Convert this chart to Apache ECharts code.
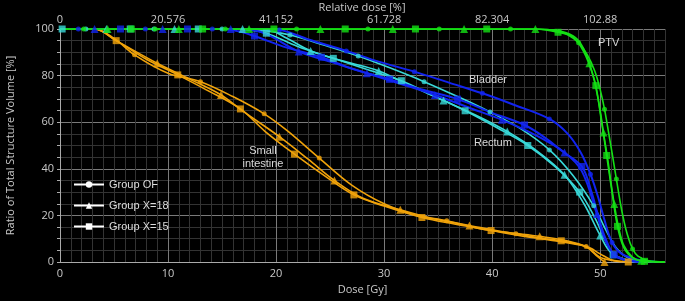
<!DOCTYPE html>
<html>
<head>
<meta charset="utf-8">
<script src="https://cdn.jsdelivr.net/npm/echarts@6/dist/echarts.min.js"></script>
<style>
  html, body { margin: 0; padding: 0; background: #000; }
  #Chart { width: 685px; height: 301px; }
</style>
</head>
<body>
<div id="Chart"></div>
<script>
// DVH curves: dose [Gy] vs volume [%], three plan groups per structure

const doseTicks = ['0', '10', '20', '30', '40', '50'];
const relDoseTicks = ['0', '20.576', '41.152', '61.728', '82.304', '102.88'];
const volumeTicks = ['0', '20', '40', '60', '80', '100'];
const groups = ['Group OF', 'Group X=18', 'Group X=15'];

// PTV
const ptvOF = [[0,100],[44,100],[46,99.3],[47,97.5],[48,94.1],[48.8,89],[49.5,82],[50,74],[50.4,65.6],[50.8,55],[51.2,44],[51.5,35.6],[52,22],[52.5,12],[53,5.6],[53.5,2.5],[54.5,0.5],[56,0]];
const ptvX18 = [[0,100],[44,100],[46,99.3],[47.5,97],[48.3,93],[49,85.3],[49.5,77],[50,65],[50.3,55.6],[50.7,44],[51,34],[51.3,24.9],[51.7,15],[52.2,7],[53,2],[53.8,0.5],[56,0]];
const ptvX15 = [[0,100],[44,100],[46.1,98.6],[47.5,96.5],[48.5,90],[49.2,82],[49.6,75.7],[50.1,61],[50.6,45.7],[51,33],[51.6,15.3],[52.2,6],[53,1.8],[54,0.4],[56,0]];
const ptvOFMarks = [[2.2,100],[8.8,100],[15.3,100],[21.9,100],[28.5,100],[35.1,100],[41.7,100],[48,94.1],[50.4,65.6],[51.5,35.6],[53,5.6]];
const ptvX18Marks = [[4.4,100],[11,100],[17.5,100],[24.1,100],[30.8,100],[37.4,100],[44,100],[49,85.3],[50.3,55.6],[51.3,24.9],[53.8,0.5]];
const ptvX15Marks = [[6.6,100],[13.2,100],[19.8,100],[26.4,100],[32.9,100],[39.5,100],[46.1,98.6],[49.6,75.7],[50.6,45.7],[51.6,15.3],[54.1,0.3]];

// Bladder
const bladderOF = [[0,100],[18,100],[20.3,99.6],[23,95.5],[26.5,90.6],[29.5,86],[32.8,81.7],[36,77],[39.1,72.4],[42,67.5],[45.3,61.4],[47,55],[48.2,47],[49.1,37.7],[49.8,28],[50.4,18],[51.1,8.4],[52,3.5],[53.5,1],[55,0.2]];
const bladderX18 = [[0,100],[17,100],[19,98],[22.1,90.3],[25,86],[28.4,81],[31.5,76.5],[34.7,71.7],[38,66],[40.9,61],[44,54.5],[46.7,47],[48.3,39],[49.7,20.6],[50.4,10],[51.3,3],[52.5,0.6],[54,0]];
const bladderX15 = [[0,100],[15,100],[16.5,99],[18,97],[21,92],[24.2,87.9],[27,83],[30.5,78.4],[33.5,74],[36.8,69.9],[40,64],[43,58.8],[45,53],[46.5,47.5],[48.3,41],[49.2,30],[49.8,20],[50.5,10],[51.3,3.1],[52.5,0.8],[54,0.1]];
const bladderOFMarks = [[1.7,100],[7.9,100],[14.1,100],[20.3,99.6],[26.5,90.6],[32.8,81.7],[39.1,72.4],[45.3,61.4],[49.1,37.7],[51.1,8.4]];
const bladderX18Marks = [[3.2,100],[9.5,100],[15.8,100],[22.1,90.3],[28.4,81],[34.7,71.7],[40.9,61],[46.7,47],[49.7,20.6]];
const bladderX15Marks = [[5.6,100],[11.8,100],[18,97],[24.2,87.9],[30.5,78.4],[36.8,69.9],[43,58.8],[48.3,41],[51.3,3.1]];

// Rectum
const rectumOF = [[0,100],[17,100],[19,99.3],[21.3,97.4],[24.5,93],[27.6,88.4],[30.7,83],[33.7,77.4],[36.8,71],[39.8,64.4],[42.7,57],[45.3,48.1],[47.5,37],[49.4,24.1],[50.5,14],[51.5,6],[52.5,2],[54,0.3],[55.5,0]];
const rectumX18 = [[0,100],[19,100],[21,96],[23.2,90.6],[26.4,86],[29.5,82],[32.5,75.5],[35.5,69.3],[38.5,63],[41.4,56],[44.2,47.5],[46.7,37.4],[48.5,25],[50,11.4],[51,4],[52.5,0.8],[54,0]];
const rectumX15 = [[0,100],[16,100],[17.5,99.5],[19.1,98.2],[22,92.5],[25.3,87.4],[28.5,82.5],[31.6,77.8],[34.5,71.5],[37.5,64.9],[40.5,57.5],[43.3,50],[45.8,41],[48.1,30],[49.5,19],[50.5,9],[51.2,3.1],[52.5,0.6],[54,0]];
const rectumOFMarks = [[2.4,100],[8.7,100],[15,100],[21.3,97.4],[27.6,88.4],[33.7,77.4],[39.8,64.4],[45.3,48.1],[49.4,24.1]];
const rectumX18Marks = [[4.3,100],[10.6,100],[16.9,100],[23.2,90.6],[29.5,82],[35.5,69.3],[41.4,56],[46.7,37.4],[50,11.4]];
const rectumX15Marks = [[0.2,100],[6.5,100],[12.8,100],[19.1,98.2],[25.3,87.4],[31.6,77.8],[37.5,64.9],[43.3,50],[48.1,30],[51.2,3.1]];

// Small intestine
const bowelOF = [[0,100],[3.2,100],[5,96],[6.9,88.9],[10,81],[13,77.4],[16,71],[18.9,63.6],[21,56.5],[24,44.6],[27,33],[30,25],[33,20],[35.8,17.7],[39,14.2],[42.2,12.1],[45,9.7],[48.7,6.7],[50,3.5],[51,1],[52,0]];
const bowelX18 = [[0,100],[3.2,100],[5.2,95],[9,85.3],[12,78.5],[14.9,71.7],[17,64.5],[20.3,53.8],[23,44],[25.4,35],[28,27.5],[31.5,22.4],[34.5,18.7],[37.9,15.7],[41,13],[44.4,11],[47,9],[48.7,6.5],[49.6,3],[50.4,0]];
const bowelX15 = [[0,100],[3.2,100],[5.2,95],[8,87],[10.9,80.3],[13.5,74],[16.7,65.7],[19,56],[21.7,46.3],[24.5,37],[27.2,28.8],[30,24],[33.5,19.1],[36.5,16.3],[39.9,13.5],[43,11],[46.4,9.1],[48.7,6.5],[50,2],[51,0.8],[52.6,0]];
const bowelOFMarks = [[6.9,88.9],[13,77.4],[18.9,63.6],[24,44.6],[35.8,17.7],[42.2,12.1],[48.7,6.7]];
const bowelX18Marks = [[9,85.3],[14.9,71.7],[20.3,53.8],[25.4,35],[31.5,22.4],[37.9,15.7],[44.4,11],[50.4,0]];
const bowelX15Marks = [[5.2,95],[10.9,80.3],[16.7,65.7],[21.7,46.3],[27.2,28.8],[33.5,19.1],[39.9,13.5],[46.4,9.1],[52.6,0]];

const textColor = '#c8c8c8';
const majorGrid = '#7a7a7a';
const minorGrid = '#333333';
const groupSymbols = ['circle', 'triangle', 'rect'];
const groupSymbolSize = [5, 8, 7];

const structures = [
    { color: '#f0a30a', width: 1.6, curves: [bowelOF, bowelX18, bowelX15], marks: [bowelOFMarks, bowelX18Marks, bowelX15Marks] },
    { color: '#38d8d8', width: 1.6, curves: [rectumOF, rectumX18, rectumX15], marks: [rectumOFMarks, rectumX18Marks, rectumX15Marks] },
    { color: '#1224f0', width: 2, curves: [bladderOF, bladderX18, bladderX15], marks: [bladderOFMarks, bladderX18Marks, bladderX15Marks] },
    { color: '#14e014', width: 1.6, curves: [ptvOF, ptvX18, ptvX15], marks: [ptvOFMarks, ptvX18Marks, ptvX15Marks] }
];

const labelFont = '11px "Liberation Sans"';

const option = {
    backgroundColor: '#000000',
    animation: false,
    textStyle: { fontFamily: 'Open Sans' },
    grid: { left: 60, right: 20, top: 29, bottom: 39, outerBoundsMode: 'none' },
    legend: {
        orient: 'vertical',
        left: 68,
        top: 174,
        itemWidth: 30,
        itemHeight: 8,
        itemGap: 10,
        textStyle: { color: '#dddddd', fontSize: 11, fontFamily: 'Liberation Sans' },
        data: groups
    },
    xAxis: [
        {
            type: 'value',
            min: 0,
            max: 56,
            interval: 1,
            name: 'Dose [Gy]',
            nameLocation: 'middle',
            nameGap: 22,
            nameTextStyle: { color: textColor, fontSize: 11 },
            axisLine: { show: true, lineStyle: { color: '#aaaaaa', width: 1 } },
            axisTick: { show: false },
            axisLabel: {
                color: textColor,
                fontSize: 11,
                margin: 6,
                formatter: v => (v % 10 === 0 && doseTicks[v / 10]) || ''
            },
            splitLine: {
                show: true,
                lineStyle: { color: [majorGrid, minorGrid, minorGrid, minorGrid, minorGrid, minorGrid, minorGrid, minorGrid, minorGrid, minorGrid], width: 1 }
            }
        },
        {
            type: 'value',
            position: 'top',
            min: 0,
            max: 56,
            interval: 10,
            axisLine: { show: false },
            axisTick: { show: false },
            axisLabel: {
                color: textColor,
                fontSize: 11,
                margin: 4,
                formatter: v => (v % 10 === 0 && relDoseTicks[v / 10]) || ''
            },
            splitLine: { show: false }
        }
    ],
    yAxis: {
        type: 'value',
        min: 0,
        max: 100,
        interval: 5,
        name: 'Ratio of Total Structure Volume [%]',
        nameLocation: 'middle',
        nameGap: 44,
        nameTextStyle: { color: textColor, fontSize: 11 },
        axisLine: { show: true, lineStyle: { color: '#aaaaaa', width: 1 } },
        axisTick: { show: true, length: 3, lineStyle: { color: '#aaaaaa' } },
        axisLabel: {
            color: textColor,
            fontSize: 11,
            margin: 6,
            formatter: v => (v % 20 === 0 && volumeTicks[v / 20]) || ''
        },
        splitLine: {
            show: true,
            lineStyle: { color: [majorGrid, minorGrid, minorGrid, minorGrid], width: 1 }
        }
    },
    graphic: [
        // top axis title
        { type: 'text', z: 100, x: 362, y: 8, style: { text: 'Relative dose [%]', fill: textColor, font: '11px "Open Sans"', align: 'center', verticalAlign: 'middle' } },
        { type: 'text', z: 100, x: 598, y: 37, style: { text: 'PTV', fill: '#d8d8d8', font: labelFont } },
        { type: 'text', z: 100, x: 469, y: 74, style: { text: 'Bladder', fill: '#d8d8d8', font: labelFont } },
        { type: 'text', z: 100, x: 474, y: 137, style: { text: 'Rectum', fill: '#d8d8d8', font: labelFont } },
        { type: 'text', z: 100, x: 263, y: 144, style: { text: 'Small\nintestine', fill: '#d8d8d8', font: labelFont, align: 'center', lineHeight: 13 } }
    ],
    series: []
};

// legend entries (white line + group symbol)
groups.forEach((g, i) => {
    option.series.push({
        name: g,
        type: 'line',
        symbol: groupSymbols[i],
        symbolSize: groupSymbolSize[i] + 1,
        itemStyle: { color: '#ffffff' },
        lineStyle: { color: '#ffffff', width: 1.5 },
        data: []
    });
});

structures.forEach(s => {
    s.curves.forEach((curve, i) => {
        option.series.push({
            type: 'line',
            smooth: 0.35,
            symbol: 'none',
            lineStyle: { color: s.color, width: s.width },
            z: 2,
            data: curve
        });
        option.series.push({
            type: 'scatter',
            symbol: groupSymbols[i],
            symbolSize: groupSymbolSize[i],
            itemStyle: { color: s.color },
            z: 3,
            data: s.marks[i]
        });
    });
});

const myChart = echarts.init(document.getElementById('Chart'));
myChart.setOption(option);
</script>
</body>
</html>
